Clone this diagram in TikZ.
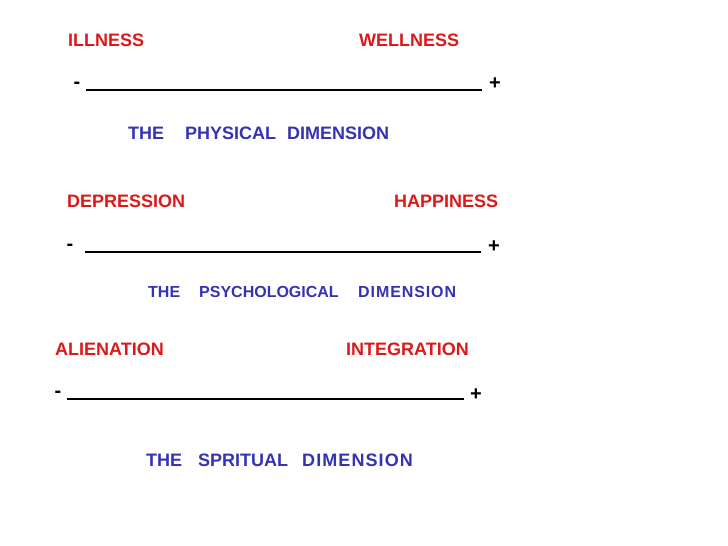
\documentclass[tikz,border=0pt]{standalone}
\usepackage{fontspec}
\setmainfont{Liberation Sans}
\definecolor{polered}{RGB}{221,24,24}
\definecolor{dimblue}{RGB}{51,51,180}
\tikzset{
  pole/.style={anchor=west,inner sep=0pt,text=polered,font=\fontsize{18}{20}\selectfont\bfseries},
  dimword/.style={anchor=west,inner sep=0pt,text=dimblue,font=\fontsize{18}{20}\selectfont\bfseries},
  smallword/.style={dimword,font=\fontsize{16}{18}\selectfont\bfseries},
  sign/.style={inner sep=0pt,font=\fontsize{20}{22}\selectfont\bfseries},
  scaleline/.style={line width=2.2pt}
}
\begin{document}
\begin{tikzpicture}[x=1pt,y=-1pt]
  \useasboundingbox[fill=white] (0,0) rectangle (728,546);

  % physical
  \node[pole] (ill) at (68,40) {ILLNESS};
  \node[pole] (well) at (359,40) {WELLNESS};
  \node[sign] (m1) at (77,85) {-};
  \node[sign] (p1) at (495,84) {+};
  \coordinate (a1) at (86,90);
  \coordinate (b1) at (482,90);
  \draw[scaleline] (a1) -- (b1);
  \node[dimword] (the1) at (128,133) {THE};
  \node[dimword] (phys) at (185,133) {PHYSICAL};
  \node[dimword] (dim1) at (287,133) {DIMENSION};

  % psychological
  \node[pole] (dep) at (67,201) {DEPRESSION};
  \node[pole] (hap) at (394,201) {HAPPINESS};
  \node[sign] (m2) at (70,247) {-};
  \node[sign] (p2) at (494,247) {+};
  \coordinate (a2) at (85,252);
  \coordinate (b2) at (481,252);
  \draw[scaleline] (a2) -- (b2);
  \node[smallword] (the2) at (148,292) {THE};
  \node[smallword] (psy) at (199,292) {PSYCHOLOGICAL};
  \node[smallword] (dim2) at (358,292) {\addfontfeature{LetterSpace=5.7}DIMENSION};

  % spiritual
  \node[pole] (ali) at (55,349) {ALIENATION};
  \node[pole] (integ) at (346,349) {INTEGRATION};
  \node[sign] (m3) at (58,394) {-};
  \node[sign] (p3) at (476,395) {+};
  \coordinate (a3) at (67,399);
  \coordinate (b3) at (464,399);
  \draw[scaleline] (a3) -- (b3);
  \node[dimword] (the3) at (146,460) {THE};
  \node[dimword] (spir) at (198,460) {SPRITUAL};
  \node[dimword] (dim3) at (302,460) {\addfontfeature{LetterSpace=6}DIMENSION};
\end{tikzpicture}
\end{document}
